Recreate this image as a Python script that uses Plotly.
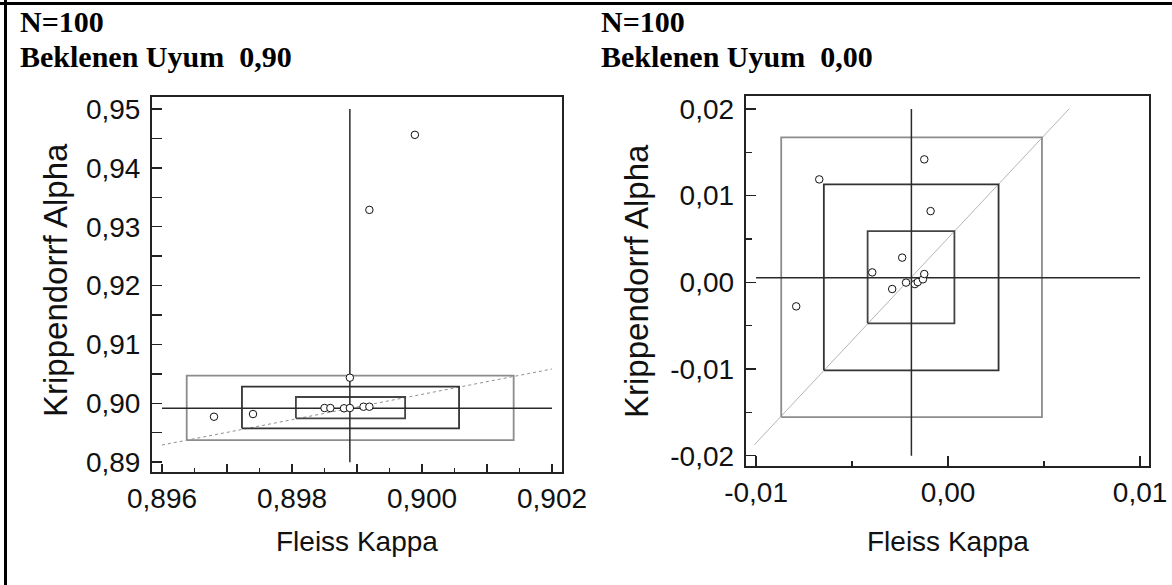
import plotly.graph_objects as go

W, H = 1172, 585

# ---------------- data: left panel (Beklenen Uyum 0,90) ----------------
left_kappa = [0.8968, 0.89740, 0.89850, 0.89859, 0.8988, 0.89889, 0.8991, 0.89919, 0.89889, 0.89919, 0.89989]
left_alpha = [0.89772, 0.89818, 0.8992, 0.8992, 0.89915, 0.8992, 0.89942, 0.89942, 0.90435, 0.93286, 0.94561]
left_mean_kappa = 0.89889
left_mean_alpha = 0.89915
left_vline_alpha = [0.89, 0.95]
left_hline_kappa = [0.896, 0.902]
left_box_kappa_lo = [0.89806, 0.89723, 0.89638]
left_box_kappa_hi = [0.89974, 0.90057, 0.90141]
left_box_alpha_lo = [0.89745, 0.89575, 0.89376]
left_box_alpha_hi = [0.90107, 0.90282, 0.90469]
left_fit_kappa = [0.896, 0.902]
left_fit_alpha = [0.89291, 0.90583]
left_xtick_vals = [0.896, 0.897, 0.898, 0.899, 0.900, 0.901, 0.902]
left_xtick_text = ["0,896", "", "0,898", "", "0,900", "", "0,902"]
left_xminor_vals = [0.8965, 0.8975, 0.8985, 0.8995, 0.9005, 0.9015]
left_ytick_vals = [0.89, 0.895, 0.90, 0.905, 0.91, 0.915, 0.92, 0.925, 0.93, 0.935, 0.94, 0.945, 0.95]
left_ytick_text = ["0,89", "", "0,90", "", "0,91", "", "0,92", "", "0,93", "", "0,94", "", "0,95"]

# ---------------- data: right panel (Beklenen Uyum 0,00) ----------------
right_kappa = [-0.00671, -0.00395, -0.00239, -0.00291, -0.00219, -0.00173, -0.00158, -0.00131, -0.00124, -0.00124, -0.00091, -0.00791]
right_alpha = [0.01188, 0.00115, 0.00285, -0.00077, -0.00003, -0.0002, 0.00003, 0.00035, 0.00096, 0.01419, 0.00822, -0.00277]
right_mean_kappa = -0.00191
right_mean_alpha = 0.00054
right_vline_alpha = [-0.02, 0.02]
right_hline_kappa = [-0.01, 0.01]
right_box_kappa_lo = [-0.00419, -0.00647, -0.00869]
right_box_kappa_hi = [0.00033, 0.00263, 0.00489]
right_box_alpha_lo = [-0.00473, -0.01015, -0.01554]
right_box_alpha_hi = [0.00592, 0.0113, 0.01672]
right_fit_kappa = [-0.01008, 0.00631]
right_fit_alpha = [-0.01872, 0.02003]
right_xtick_vals = [-0.01, 0.0, 0.01]
right_xtick_text = ["-0,01", "0,00", "0,01"]
right_xminor_vals = [-0.005, 0.005]
right_ytick_vals = [-0.02, -0.01, 0.0, 0.01, 0.02]
right_ytick_text = ["-0,02", "-0,01", "0,00", "0,01", "0,02"]
right_yminor_vals = [-0.015, -0.005, 0.005, 0.015]

titles_n = ["N=100", "N=100"]
titles_exp = ["Beklenen Uyum  0,90", "Beklenen Uyum  0,00"]
x_title = "Fleiss Kappa"
y_title = "Krippendorrf Alpha"

box_colors = ["#444444", "#333333", "#8c8c8c"]
DARK = "#2a2a2a"

fig = go.Figure()


def add_panel(xa, ya, kx, ky, mk, ma, vline, hline, blo_x, bhi_x, blo_y, bhi_y, fx, fy, fit_dash, fit_color):
    fig.add_trace(go.Scatter(x=fx, y=fy, mode="lines", xaxis=xa, yaxis=ya,
                             line=dict(color=fit_color, width=1, dash=fit_dash), hoverinfo="skip"))
    for i in range(3):
        fig.add_trace(go.Scatter(
            x=[blo_x[i], bhi_x[i], bhi_x[i], blo_x[i], blo_x[i]],
            y=[blo_y[i], blo_y[i], bhi_y[i], bhi_y[i], blo_y[i]],
            mode="lines", xaxis=xa, yaxis=ya,
            line=dict(color=box_colors[i], width=1.8), hoverinfo="skip"))
    fig.add_trace(go.Scatter(x=[mk, mk], y=vline, mode="lines", xaxis=xa, yaxis=ya,
                             line=dict(color=DARK, width=1.5), hoverinfo="skip"))
    fig.add_trace(go.Scatter(x=hline, y=[ma, ma], mode="lines", xaxis=xa, yaxis=ya,
                             line=dict(color=DARK, width=1.5), hoverinfo="skip"))
    fig.add_trace(go.Scatter(x=kx, y=ky, mode="markers", xaxis=xa, yaxis=ya,
                             marker=dict(symbol="circle", size=7.5, color="white",
                                         line=dict(color="#111111", width=1))))


add_panel("x", "y", left_kappa, left_alpha, left_mean_kappa, left_mean_alpha,
          left_vline_alpha, left_hline_kappa, left_box_kappa_lo, left_box_kappa_hi,
          left_box_alpha_lo, left_box_alpha_hi, left_fit_kappa, left_fit_alpha, "dot", "#8f8f8f")
add_panel("x2", "y2", right_kappa, right_alpha, right_mean_kappa, right_mean_alpha,
          right_vline_alpha, right_hline_kappa, right_box_kappa_lo, right_box_kappa_hi,
          right_box_alpha_lo, right_box_alpha_hi, right_fit_kappa, right_fit_alpha, "solid", "#b5b5b5")

tickfont = dict(family="Liberation Sans, Arial, sans-serif", size=28, color="#111111")
axis_common = dict(showline=True, linecolor="#222222", linewidth=2, mirror=True,
                   ticks="inside", tickcolor="#222222", tickwidth=1.5, automargin=False,
                   showgrid=False, zeroline=False, tickfont=tickfont, tickmode="array")

fig.update_layout(
    template="none",
    width=W, height=H, margin=dict(l=0, r=0, t=0, b=0, pad=0, autoexpand=False),
    paper_bgcolor="white", plot_bgcolor="white", showlegend=False,
    xaxis=dict(domain=[152 / W, 561.7 / W], range=[0.895846, 0.902149], anchor="y",
               tickvals=left_xtick_vals, ticktext=left_xtick_text, ticklen=8,
               minor=dict(tickvals=left_xminor_vals, ticklen=4, ticks="inside",
                          tickcolor="#222222", tickwidth=1.5, showgrid=False),
               **axis_common),
    yaxis=dict(domain=[1 - 472 / H, 1 - 96.7 / H], range=[0.88833, 0.95209], anchor="x",
               tickvals=left_ytick_vals, ticktext=left_ytick_text, ticklen=10,
               ticklabelstandoff=4, **axis_common),
    xaxis2=dict(domain=[745.7 / W, 1149.3 / W], range=[-0.01054, 0.01048], anchor="y2",
                tickvals=right_xtick_vals, ticktext=right_xtick_text, ticklen=10,
                minor=dict(tickvals=right_xminor_vals, ticklen=5, ticks="inside",
                           tickcolor="#222222", tickwidth=1.5, showgrid=False),
                **axis_common),
    yaxis2=dict(domain=[1 - 466 / H, 1 - 96 / H], range=[-0.02119, 0.0215], anchor="x2",
                tickvals=right_ytick_vals, ticktext=right_ytick_text, ticklen=10,
                ticklabelstandoff=4,
                minor=dict(tickvals=right_yminor_vals, ticklen=6, ticks="inside",
                           tickcolor="#222222", tickwidth=1.5, showgrid=False),
                **axis_common),
)

xtitlefont = dict(family="Liberation Sans, Arial, sans-serif", size=28, color="#111111")
ytitlefont = dict(family="Liberation Sans, Arial, sans-serif", size=33, color="#111111")
headfont = dict(family="Liberation Serif, Times New Roman, serif", size=30, color="#000000")

annotations = []
for xc, yc in [(55, 280), (636, 281)]:
    annotations.append(dict(text=y_title, x=xc / W, y=1 - yc / H, xref="paper", yref="paper",
                            xanchor="center", yanchor="middle", textangle=-90,
                            showarrow=False, font=ytitlefont))
for xc in [357, 948]:
    annotations.append(dict(text=x_title, x=xc / W, y=1 - 541 / H, xref="paper", yref="paper",
                            xanchor="center", yanchor="middle", showarrow=False, font=xtitlefont))
for i, xl in enumerate([18, 599]):
    annotations.append(dict(text="<b>%s</b>" % titles_n[i], x=xl / W, y=1 - 22 / H, xref="paper",
                            yref="paper", xanchor="left", yanchor="middle", showarrow=False,
                            font=headfont))
    annotations.append(dict(text="<b>%s</b>" % titles_exp[i], x=xl / W, y=1 - 57 / H, xref="paper",
                            yref="paper", xanchor="left", yanchor="middle", showarrow=False,
                            font=headfont))
fig.update_layout(annotations=annotations)

fig.add_shape(type="line", xref="paper", yref="paper", x0=5.5 / W, x1=5.5 / W, y0=0, y1=1,
              line=dict(color="black", width=3))
fig.add_shape(type="line", xref="paper", yref="paper", x0=0, x1=1, y0=1 - 3.5 / H, y1=1 - 3.5 / H,
              line=dict(color="black", width=3))

fig.write_html("out.html", config={"displayModeBar": False, "staticPlot": True},
               post_script="document.body.style.margin='0';document.body.style.overflow='hidden';")
